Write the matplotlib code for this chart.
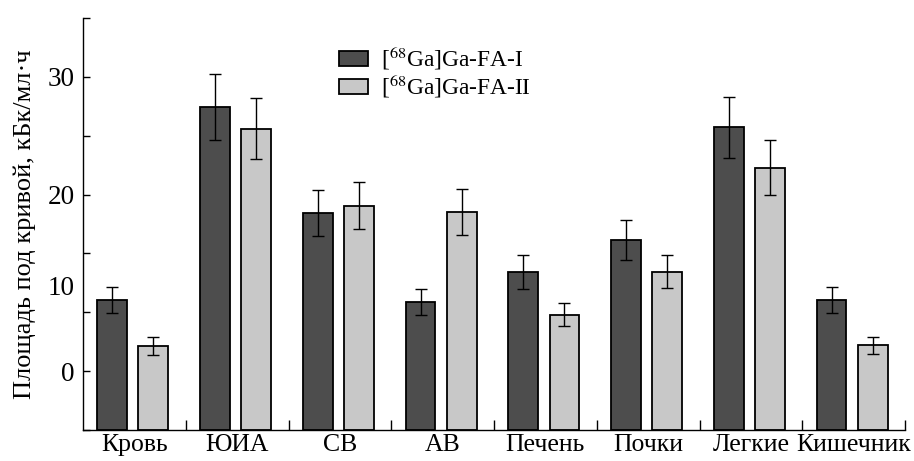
import matplotlib
matplotlib.use('Agg')
import matplotlib.pyplot as plt
import numpy as np

plt.rcParams['font.family'] = ['Liberation Serif', 'DejaVu Serif']
plt.rcParams['mathtext.fontset'] = 'stix'

# organs on the x axis
organs = ['Кровь', 'ЮИА', 'СВ', 'АВ', 'Печень', 'Почки', 'Легкие', 'Кишечник']

# values in axis units (bottom of plot = 0, one tick mark = 5)
fa1 = [11.05, 27.45, 18.45, 10.9, 13.45, 16.15, 25.7, 11.05]
fa1_err = [1.1, 2.8, 1.95, 1.1, 1.45, 1.7, 2.6, 1.1]
fa2 = [7.15, 25.6, 19.05, 18.55, 9.8, 13.45, 22.3, 7.2]
fa2_err = [0.75, 2.6, 2.0, 1.95, 1.0, 1.4, 2.3, 0.7]

# tick labels as they are printed on the axis
ylab_pos = [5, 12.3, 20, 30]
ylab_txt = ['0', '10', '20', '30']

fig = plt.figure(figsize=(9.14, 4.61), dpi=100)
ax = fig.add_axes([0.0908, 0.0672, 0.8994, 0.8937])

x = np.arange(len(organs))
w = 0.29
ekw = dict(elinewidth=1.0, capsize=4, capthick=1.0, ecolor='black')
ax.bar(x + 0.285, fa1, w, yerr=fa1_err, color='#4d4d4d', edgecolor='black',
       linewidth=1.3, error_kw=ekw, label=r'[$^{68}$Ga]Ga-FA-I')
ax.bar(x + 0.685, fa2, w, yerr=fa2_err, color='#c8c8c8', edgecolor='black',
       linewidth=1.3, error_kw=ekw, label=r'[$^{68}$Ga]Ga-FA-II')

ax.set_xlim(0, 8)
ax.set_ylim(0, 35)
for s in ['top', 'right']:
    ax.spines[s].set_visible(False)
for s in ['left', 'bottom']:
    ax.spines[s].set_linewidth(1.0)

ax.xaxis.remove_overlapping_locs = False
ax.yaxis.remove_overlapping_locs = False

# x: small inward ticks between groups, labels at group centres
ax.set_xticks(np.arange(1, 9))
ax.set_xticklabels([])
ax.set_xticks(x + 0.5, minor=True)
ax.set_xticklabels(organs, minor=True, fontsize=18.5)
ax.tick_params(axis='x', which='major', direction='in', length=7, width=1)
ax.tick_params(axis='x', which='minor', length=0, pad=3)

# y: inward ticks every 5, labels where the original put them
ax.set_yticks(np.arange(0, 36, 5))
ax.set_yticklabels([])
ax.set_yticks(ylab_pos, minor=True)
ax.set_yticklabels(ylab_txt, minor=True, fontsize=19.5)
ax.tick_params(axis='y', which='major', direction='in', length=5, width=1)
ax.tick_params(axis='y', which='minor', length=0, pad=6)

ax.set_ylabel('Площадь под кривой, кБк/мл·ч', fontsize=19, labelpad=8)

ax.legend(loc='upper left', bbox_to_anchor=(0.3, 0.958), frameon=False,
          fontsize=16.8, handlelength=1.25, handleheight=0.6, handletextpad=0.55,
          labelspacing=0.0, borderaxespad=0)

fig.savefig('out.png', dpi=100)
